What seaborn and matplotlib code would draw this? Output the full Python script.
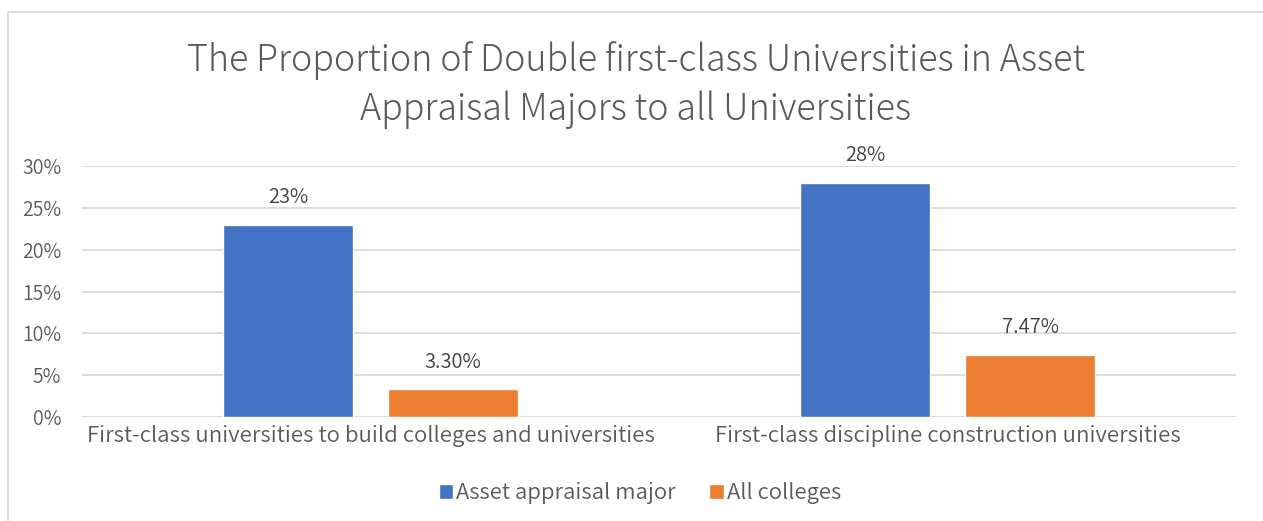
import matplotlib
matplotlib.use("Agg")
import matplotlib.pyplot as plt
import seaborn as sns
import pandas as pd
from matplotlib.patches import Rectangle

categories = ["First-class universities to build colleges and universities",
              "First-class discipline construction universities"]
series_names = ["Asset appraisal major", "All colleges"]
asset_values = [0.23, 0.28]
all_values = [0.033, 0.0747]
asset_labels = ["23%", "28%"]
all_labels = ["3.30%", "7.47%"]
yticks = [0, 0.05, 0.10, 0.15, 0.20, 0.25, 0.30]
ytick_labels = ["0%", "5%", "10%", "15%", "20%", "25%", "30%"]
title = "The Proportion of Double first-class Universities in Asset\nAppraisal Majors to all Universities"

sns.set_theme(style="white")
plt.rcParams['font.family'] = ['Noto Sans CJK JP', 'DejaVu Sans']
plt.rcParams['font.weight'] = 350

df = pd.DataFrame({
    "category": categories * 2,
    "series": [series_names[0]] * 2 + [series_names[1]] * 2,
    "value": asset_values + all_values,
})

W, H = 1263, 521
fig = plt.figure(figsize=(W / 100, H / 100), dpi=100)
ax = fig.add_axes([82 / W, 1 - 417 / H, (1236 - 82) / W, (417 - 166) / H])

ax.set_axisbelow(True)
ax.grid(axis="y", color="#D9D9D9", linewidth=1.3)
sns.barplot(data=df, x="category", y="value", hue="series",
            palette=["#4472C4", "#ED7D31"], width=0.572, gap=0.218,
            ax=ax, legend=True, saturation=1)

ax.set_ylim(0, 0.30)
ax.set_xlim(-0.5, 1.5)
ax.set_yticks(yticks)
ax.set_yticklabels(ytick_labels)
ax.tick_params(axis="y", length=0, pad=15, labelsize=14, labelcolor="#595959")
ax.tick_params(axis="x", length=0, pad=6, labelsize=16, labelcolor="#595959")
ax.set_xlabel("")
ax.set_ylabel("")
for s in ax.spines.values():
    s.set_visible(False)

for container, labels in zip(ax.containers, [asset_labels, all_labels]):
    ax.bar_label(container, labels=labels, padding=12, fontsize=14.5, color="#404040")

leg = ax.legend(loc="center", bbox_to_anchor=(640 / W, 1 - 493 / H),
                bbox_transform=fig.transFigure, ncol=2, frameon=False,
                fontsize=15.9, handlelength=0.65, handleheight=0.65,
                handletextpad=0.15, columnspacing=1.5, labelcolor="#595959")

fig.text(636 / W, 1 - 85 / H, title, ha="center", va="center",
         fontsize=25.8, color="#595959", fontweight=300, linespacing=1.35)

fig.patches.append(Rectangle((8 / W, -0.1), 1.2, 1 - 12 / H + 0.1,
                             transform=fig.transFigure, fill=False,
                             edgecolor="#D9D9D9", linewidth=1.3, figure=fig))

fig.savefig("out.png", dpi=100, facecolor="white")
